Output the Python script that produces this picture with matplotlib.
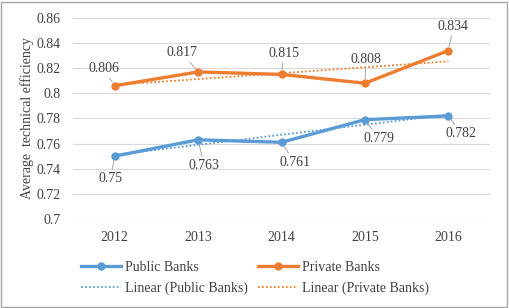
import matplotlib.pyplot as plt
import numpy as np
from matplotlib.patches import Rectangle

years = ['2012', '2013', '2014', '2015', '2016']
public = [0.750, 0.763, 0.761, 0.779, 0.782]
private = [0.806, 0.817, 0.815, 0.808, 0.834]

# label offsets (pixels) relative to each point
public_off = [(-4, -22), (6, -26), (13, -20), (14, -19), (13, -18)]
private_off = [(-11, 17), (-16, 19), (2, 21), (1, 24), (5, 24)]

blue = '#5B9BD5'
orange = '#ED7D31'

plt.rcParams['font.family'] = ['Liberation Serif', 'DejaVu Serif']

fig = plt.figure(figsize=(5.1, 3.08), dpi=100)
ax = fig.add_axes([0.143, 0.289, 0.818, 0.653])

x = np.arange(len(years))
ax.plot(x, public, color=blue, lw=2.4, marker='o', ms=5, label='Public Banks', zorder=3)
ax.plot(x, private, color=orange, lw=2.4, marker='o', ms=5, label='Private Banks', zorder=3)

# linear trend lines
pf = np.polyfit(x, public, 1)
vf = np.polyfit(x, private, 1)
ax.plot(x, np.polyval(pf, x), color=blue, lw=1.3, ls=(0, (1, 1.2)), label='Linear (Public Banks)', zorder=2)
ax.plot(x, np.polyval(vf, x), color=orange, lw=1.3, ls=(0, (1, 1.2)), label='Linear (Private Banks)', zorder=2)

for vals, offs in ((public, public_off), (private, private_off)):
    for xi, v, off in zip(x, vals, offs):
        ax.annotate(f'{v:g}', (xi, v), xytext=off, textcoords='offset pixels', ha='center', va='center',
                    fontsize=10, color='#404040',
                    arrowprops=dict(arrowstyle='-', color='#A6A6A6', lw=0.7, shrinkA=0, shrinkB=3))

ax.set_xlim(-0.5, 4.5)
ax.set_ylim(0.7, 0.86)
ax.set_yticks(np.arange(0.70, 0.861, 0.02))
ax.set_yticklabels(['0.7', '0.72', '0.74', '0.76', '0.78', '0.8', '0.82', '0.84', '0.86'])
ax.set_xticks(x)
ax.set_xticklabels(years)
ax.tick_params(length=0, labelsize=10, labelcolor='#404040', pad=9)
ax.tick_params(axis='y', pad=9)
ax.grid(axis='y', color='#D9D9D9', lw=0.8)
ax.set_axisbelow(True)
for s in ax.spines.values():
    s.set_visible(False)

ax.set_ylabel('Average  technical efficiency', fontsize=10, color='#404040', labelpad=2)

h, l = ax.get_legend_handles_labels()
order = [0, 2, 1, 3]
fig.legend([h[i] for i in order], [l[i] for i in order], ncol=2, loc='center',
           bbox_to_anchor=(0.5, 0.097), frameon=False, fontsize=10, handlelength=2.9,
           columnspacing=0.7, handletextpad=0.3, labelspacing=0.55, labelcolor='#404040')

fig.patches.append(Rectangle((0.002, 0.004), 0.992, 0.99, transform=fig.transFigure,
                             fill=False, edgecolor='#A6A6A6', lw=1))

fig.savefig('out.png', dpi=100)
